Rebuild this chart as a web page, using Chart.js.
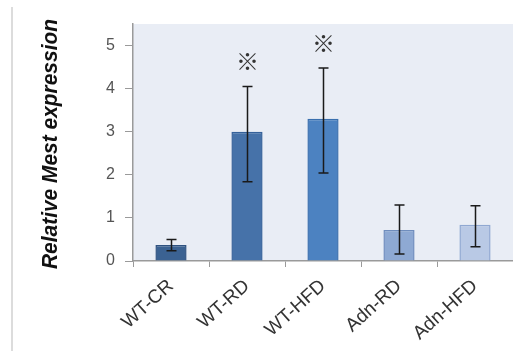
<!DOCTYPE html>
<html>
<head>
<meta charset="utf-8">
<script src="https://cdn.jsdelivr.net/npm/chart.js@4.4.1/dist/chart.umd.min.js"></script>
<style>
  html, body { margin: 0; padding: 0; background: #fff; overflow: hidden; }
  #wrap { position: relative; width: 513px; height: 351px; }
  #edge { position: absolute; left: 11px; top: 7px; width: 2px; height: 344px; background: #dcdcdc; }
</style>
</head>
<body>
<div id="wrap">
  <div id="edge"></div>
  <canvas id="myChart" width="513" height="351"></canvas>
</div>
<script>
const groups = ["WT-CR", "WT-RD", "WT-HFD", "Adn-RD", "Adn-HFD"];
const meanValues = [0.37, 3.0, 3.3, 0.72, 0.84];
const errorLow = [0.24, 1.84, 2.04, 0.16, 0.33];
const errorHigh = [0.5, 4.05, 4.48, 1.3, 1.28];
const significant = [false, true, true, false, false];
const yTicks = [0, 1, 2, 3, 4, 5];

const barColors = ["#3b6292", "#4672a9", "#4c82c1", "#8ea9d3", "#b9c9e5"];
const barBorders = ["#2f5280", "#35619a", "#3a6fae", "#6f8dbd", "#90a8d2"];

// plot background, error bars, marks and axis title
const extras = {
  id: "extras",
  beforeDraw(chart) {
    const { ctx, chartArea: a } = chart;
    ctx.save();
    ctx.fillStyle = "#e9edf5";
    ctx.fillRect(a.left, a.top, a.right - a.left, a.bottom - a.top);
    ctx.restore();
  },
  afterDatasetsDraw(chart) {
    const { ctx } = chart;
    const x = chart.scales.x, y = chart.scales.y;
    ctx.save();
    ctx.strokeStyle = "#1a1a1a";
    ctx.lineWidth = 1.5;
    groups.forEach((g, i) => {
      const cx = Math.round(x.getPixelForValue(i)) + 0.5;
      const yl = y.getPixelForValue(errorLow[i]);
      const yh = y.getPixelForValue(errorHigh[i]);
      ctx.beginPath();
      ctx.moveTo(cx, yl); ctx.lineTo(cx, yh);
      ctx.moveTo(cx - 5, yl); ctx.lineTo(cx + 5, yl);
      ctx.moveTo(cx - 5, yh); ctx.lineTo(cx + 5, yh);
      ctx.stroke();
      if (significant[i]) {
        ctx.fillStyle = "#333";
        ctx.font = "23px 'Noto Sans CJK JP'";
        ctx.textAlign = "center";
        ctx.textBaseline = "middle";
        ctx.fillText("※", cx, yh - 25);
      }
    });
    // y title
    ctx.translate(51, 144);
    ctx.rotate(-Math.PI / 2);
    ctx.fillStyle = "#111";
    ctx.textBaseline = "middle";
    const parts = [
      ["Relative ", "italic bold 21px 'Liberation Sans'"],
      ["Mest", "italic bold 21px 'Liberation Sans'"],
      [" expression", "italic bold 21px 'Liberation Sans'"]
    ];
    let total = 0;
    parts.forEach(p => { ctx.font = p[1]; total += ctx.measureText(p[0]).width; });
    const target = 250;
    ctx.scale(target / total, 1.05);
    let px = -total / 2;
    parts.forEach(p => {
      ctx.font = p[1];
      ctx.textAlign = "left";
      ctx.fillText(p[0], px, 0);
      px += ctx.measureText(p[0]).width;
    });
    ctx.restore();
  }
};

new Chart(document.getElementById("myChart"), {
  type: "bar",
  data: {
    labels: groups,
    datasets: [{
      data: meanValues,
      backgroundColor: barColors,
      borderColor: barBorders,
      borderWidth: 1.5,
      barPercentage: 0.41,
      categoryPercentage: 1.0
    }]
  },
  options: {
    responsive: false,
    animation: false,
    layout: { padding: { top: 24, right: 0, left: 0, bottom: 0 } },
    plugins: { legend: { display: false }, tooltip: { enabled: false } },
    scales: {
      y: {
        min: 0,
        max: 5.5,
        afterFit: s => { s.width = 133; },
        afterBuildTicks: s => { s.ticks = yTicks.map(v => ({ value: v })); },
        grid: { drawOnChartArea: false, color: "#9a9a9a", tickLength: 8 },
        border: { color: "#9a9a9a", width: 1.5 },
        ticks: { color: "#555", padding: 10, font: { size: 16, family: "Liberation Sans" } }
      },
      x: {
        afterFit: s => { s.height = 90; },
        grid: { drawOnChartArea: false, color: "#9a9a9a", tickLength: 6, offset: true },
        border: { color: "#9a9a9a", width: 1.5 },
        ticks: { color: "#333", minRotation: 42, maxRotation: 42, padding: 8, font: { size: 19, family: "Liberation Sans" } }
      }
    }
  },
  plugins: [extras]
});
</script>
</body>
</html>
